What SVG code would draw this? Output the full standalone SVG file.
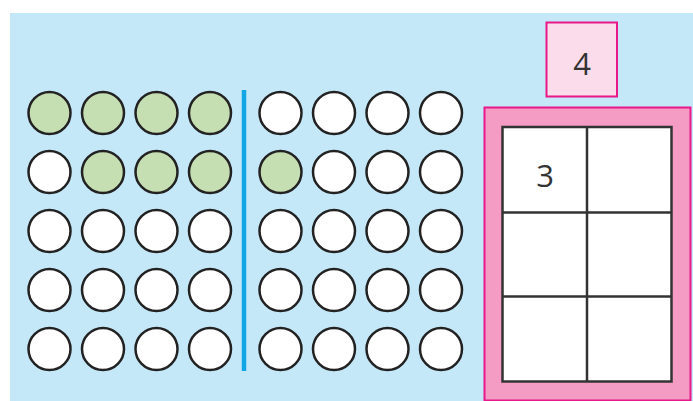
<svg xmlns="http://www.w3.org/2000/svg" width="693" height="401" viewBox="0 0 693 401">
<style>
.c{stroke:#222;stroke-width:2.5;fill:#fff}
.g{fill:#c5deb2}
.t{font-family:"Open Sans","Noto Sans",sans-serif;font-size:31px;fill:#333;text-anchor:middle}
.grid{stroke:#333;stroke-width:2.5;fill:none}
</style>
<defs>
<circle id="dot" r="21"/>
</defs>
<rect x="0" y="0" width="693" height="401" fill="#fff"/>
<rect x="10" y="13" width="683" height="388" fill="#c5e8f8"/>
<g id="dots-left">
<use href="#dot" class="c g" x="49.5" y="113"/><use href="#dot" class="c g" x="103" y="113"/><use href="#dot" class="c g" x="156.5" y="113"/><use href="#dot" class="c g" x="210" y="113"/>
<use href="#dot" class="c" x="49.5" y="172"/><use href="#dot" class="c g" x="103" y="172"/><use href="#dot" class="c g" x="156.5" y="172"/><use href="#dot" class="c g" x="210" y="172"/>
<use href="#dot" class="c" x="49.5" y="231"/><use href="#dot" class="c" x="103" y="231"/><use href="#dot" class="c" x="156.5" y="231"/><use href="#dot" class="c" x="210" y="231"/>
<use href="#dot" class="c" x="49.5" y="290"/><use href="#dot" class="c" x="103" y="290"/><use href="#dot" class="c" x="156.5" y="290"/><use href="#dot" class="c" x="210" y="290"/>
<use href="#dot" class="c" x="49.5" y="349"/><use href="#dot" class="c" x="103" y="349"/><use href="#dot" class="c" x="156.5" y="349"/><use href="#dot" class="c" x="210" y="349"/>
</g>
<g id="divider">
<line x1="244" y1="90" x2="244" y2="371" stroke="#12a6e6" stroke-width="4.5"/>
</g>
<g id="dots-right">
<use href="#dot" class="c" x="280.5" y="113"/><use href="#dot" class="c" x="334" y="113"/><use href="#dot" class="c" x="387.5" y="113"/><use href="#dot" class="c" x="441" y="113"/>
<use href="#dot" class="c g" x="280.5" y="172"/><use href="#dot" class="c" x="334" y="172"/><use href="#dot" class="c" x="387.5" y="172"/><use href="#dot" class="c" x="441" y="172"/>
<use href="#dot" class="c" x="280.5" y="231"/><use href="#dot" class="c" x="334" y="231"/><use href="#dot" class="c" x="387.5" y="231"/><use href="#dot" class="c" x="441" y="231"/>
<use href="#dot" class="c" x="280.5" y="290"/><use href="#dot" class="c" x="334" y="290"/><use href="#dot" class="c" x="387.5" y="290"/><use href="#dot" class="c" x="441" y="290"/>
<use href="#dot" class="c" x="280.5" y="349"/><use href="#dot" class="c" x="334" y="349"/><use href="#dot" class="c" x="387.5" y="349"/><use href="#dot" class="c" x="441" y="349"/>
</g>
<g id="label-4">
<rect x="546.5" y="22.5" width="70.5" height="74" fill="#fadcea" stroke="#e8178a" stroke-width="2"/>
<text class="t" x="582" y="75">4</text>
</g>
<g id="frame">
<rect x="484.5" y="107.5" width="206" height="293" fill="#f49cc4" stroke="#e8178a" stroke-width="2"/>
<rect x="502.5" y="127" width="169" height="254.5" fill="#fff"/>
<rect x="502.5" y="127" width="169" height="254.5" class="grid"/>
<line x1="587" y1="127" x2="587" y2="381.5" class="grid"/>
<line x1="502.5" y1="212.5" x2="671.5" y2="212.5" class="grid"/>
<line x1="502.5" y1="296.5" x2="671.5" y2="296.5" class="grid"/>
<text class="t" x="545" y="186.5">3</text>
</g>
</svg>
